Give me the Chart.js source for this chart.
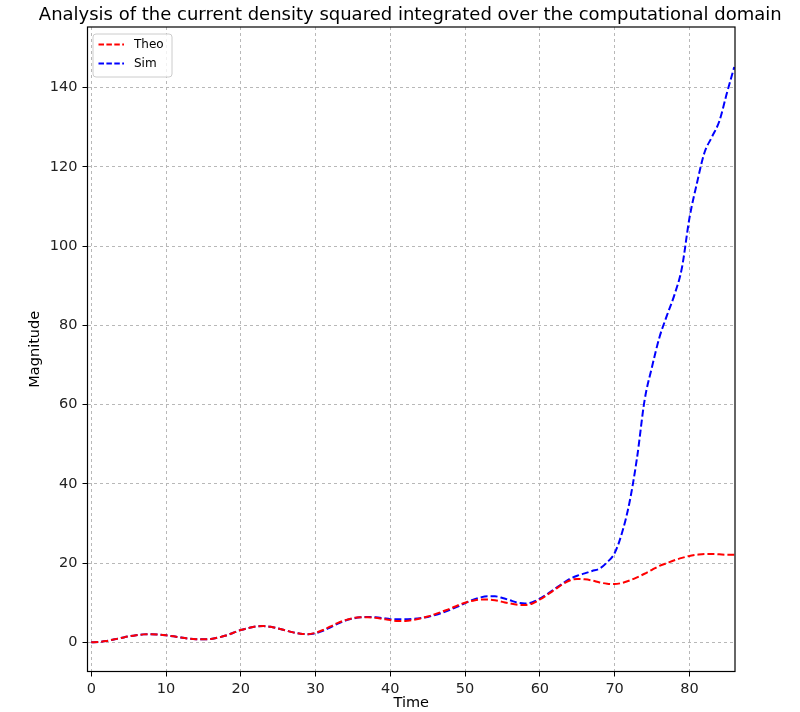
<!DOCTYPE html>
<html>
<head>
<meta charset="utf-8">
<script src="https://cdn.jsdelivr.net/npm/chart.js@4/dist/chart.umd.min.js"></script>
<style>
html,body{margin:0;padding:0;background:#fff;}
#wrap{width:800px;height:712px;position:relative;}
</style>
</head>
<body>
<div id="wrap"><canvas id="c" width="800" height="712"></canvas></div>
<script>
const titleText = "Analysis of the current density squared integrated over the computational domain";
const xLabel = "Time";
const yLabel = "Magnitude";
const seriesNames = ["Theo", "Sim"];
const xTicks = [0, 10, 20, 30, 40, 50, 60, 70, 80];
const yTicks = [0, 20, 40, 60, 80, 100, 120, 140];

const time = [0,1,2,3,4,5,6,7,8,9,10,11,12,13,14,15,16,17,18,19,20,21,22,23,24,25,26,27,28,29,30,31,32,33,34,35,36,37,38,39,40,41,42,43,44,45,46,47,48,49,50,51,52,53,54,55,56,57,58,59,60,61,62,63,64,65,66,67,68,69,70,71,72,73,74,75,76,77,78,79,80,81,82,83,84,85,86];

const theo = [0,0.1,0.3,0.7,1.1,1.5,1.8,2.0,2.05,1.95,1.75,1.5,1.2,0.95,0.8,0.75,0.85,1.2,1.7,2.4,3.1,3.6,4.0,4.1,3.9,3.5,3.0,2.5,2.15,2.05,2.4,3.1,4.0,4.9,5.6,6.1,6.3,6.3,6.2,5.9,5.6,5.4,5.4,5.6,6.0,6.5,7.1,7.8,8.5,9.3,10.0,10.5,10.8,10.8,10.6,10.2,9.8,9.5,9.4,9.8,10.8,12.0,13.3,14.6,15.6,16.0,15.9,15.6,15.1,14.8,14.7,15.0,15.6,16.4,17.3,18.3,19.3,20.0,20.7,21.3,21.8,22.1,22.3,22.3,22.2,22.1,22.1];

const sim = [0,0.1,0.3,0.7,1.1,1.5,1.8,2.0,2.05,1.95,1.75,1.5,1.2,0.95,0.8,0.75,0.85,1.2,1.7,2.4,3.1,3.6,4.0,4.1,3.9,3.5,3.0,2.5,2.15,2.05,2.3,2.9,3.8,4.7,5.5,6.0,6.3,6.4,6.3,6.1,5.85,5.8,5.8,5.9,6.1,6.4,6.9,7.5,8.2,9.0,9.9,10.7,11.3,11.6,11.6,11.2,10.6,10.0,9.8,10.1,11.0,12.2,13.5,14.8,16.0,16.8,17.4,18.0,18.6,20.2,22.5,27.7,35.4,46.6,61,69.5,77,82.5,87.7,94.5,107,115.8,123.5,127.5,131.5,138.5,145.2];

const colors = ["#ff0000", "#0000ff"];

function toXY(xs, ys){ return xs.map((x,i)=>({x:x, y:ys[i]})); }

const frame = {
  id: 'frame',
  afterDraw(chart){
    const {ctx, chartArea:a} = chart;
    ctx.save();
    ctx.strokeStyle = '#000'; ctx.lineWidth = 1.2; ctx.setLineDash([]);
    ctx.strokeRect(a.left, a.top, a.right-a.left, a.bottom-a.top);
    ctx.fillStyle = '#000';
    ctx.font = '18px "DejaVu Sans"';
    ctx.textAlign = 'center'; ctx.textBaseline = 'alphabetic';
    ctx.fillText(titleText, (a.left+a.right)/2 - 1, 19.5);
    const bx = a.left+5.5, by = a.top+7, bw = 79, bh = 43;
    ctx.beginPath();
    const r = 3;
    ctx.moveTo(bx+r, by); ctx.lineTo(bx+bw-r, by); ctx.arcTo(bx+bw, by, bx+bw, by+r, r);
    ctx.lineTo(bx+bw, by+bh-r); ctx.arcTo(bx+bw, by+bh, bx+bw-r, by+bh, r);
    ctx.lineTo(bx+r, by+bh); ctx.arcTo(bx, by+bh, bx, by+bh-r, r);
    ctx.lineTo(bx, by+r); ctx.arcTo(bx, by, bx+r, by, r);
    ctx.closePath();
    ctx.fillStyle = 'rgba(255,255,255,0.8)'; ctx.fill();
    ctx.strokeStyle = '#cccccc'; ctx.lineWidth = 1; ctx.stroke();
    chart.data.datasets.forEach((ds, i) => {
      const y = by + 10.5 + i*19;
      ctx.strokeStyle = ds.borderColor; ctx.lineWidth = 1.8;
      ctx.setLineDash([5.5, 2.4]);
      ctx.beginPath(); ctx.moveTo(bx+5.5, y); ctx.lineTo(bx+31, y); ctx.stroke();
      ctx.setLineDash([]);
      ctx.fillStyle = '#000'; ctx.font = '12px "DejaVu Sans"';
      ctx.textAlign = 'left'; ctx.textBaseline = 'middle';
      ctx.fillText(ds.label, bx+41, y+0.5);
    });
    ctx.restore();
  }
};

new Chart(document.getElementById('c'), {
  type: 'line',
  data: {
    datasets: [
      {label: seriesNames[0], data: toXY(time, theo), borderColor: colors[0], backgroundColor: colors[0], borderWidth: 2, borderDash: [7, 3], pointRadius: 0, tension: 0.4, cubicInterpolationMode: 'monotone', fill: false},
      {label: seriesNames[1], data: toXY(time, sim), borderColor: colors[1], backgroundColor: colors[1], borderWidth: 2, borderDash: [7, 3], pointRadius: 0, tension: 0.4, cubicInterpolationMode: 'monotone', fill: false}
    ]
  },
  options: {
    responsive: false,
    animation: false,
    layout: {padding: {left: 0, right: 65, top: 27, bottom: 0}},
    plugins: {legend: {display: false}, title: {display: false}, tooltip: {enabled: false}},
    scales: {
      x: {
        type: 'linear', min: -0.5, max: 86.1,
        afterBuildTicks: (s) => { s.ticks = xTicks.map(v => ({value: v})); },
        afterFit: (s) => { s.height = 40.5; },
        ticks: {color: '#222', font: {family: 'DejaVu Sans', size: 14.5}, padding: 4, maxRotation: 0, autoSkip: false},
        grid: {color: '#b8b8b8', lineWidth: 1, tickColor: '#000', tickLength: 5, tickWidth: 1, tickBorderDash: []},
        border: {display: false, dash: [3, 3]},
        title: {display: true, text: xLabel, color: '#000', font: {family: 'DejaVu Sans', size: 14.5}, padding: {top: 0, bottom: 0}}
      },
      y: {
        type: 'linear', min: -7.37, max: 155.3,
        afterBuildTicks: (s) => { s.ticks = yTicks.map(v => ({value: v})); },
        afterFit: (s) => { s.width = 87.5; },
        ticks: {color: '#222', font: {family: 'DejaVu Sans', size: 14.5}, padding: 5},
        grid: {color: '#b8b8b8', lineWidth: 1, tickColor: '#000', tickLength: 5, tickWidth: 1, tickBorderDash: []},
        border: {display: false, dash: [3, 3]},
        title: {display: true, text: yLabel, color: '#000', font: {family: 'DejaVu Sans', size: 14.5}, padding: {top: 27, bottom: 0}}
      }
    }
  },
  plugins: [frame]
});
</script>
</body>
</html>
